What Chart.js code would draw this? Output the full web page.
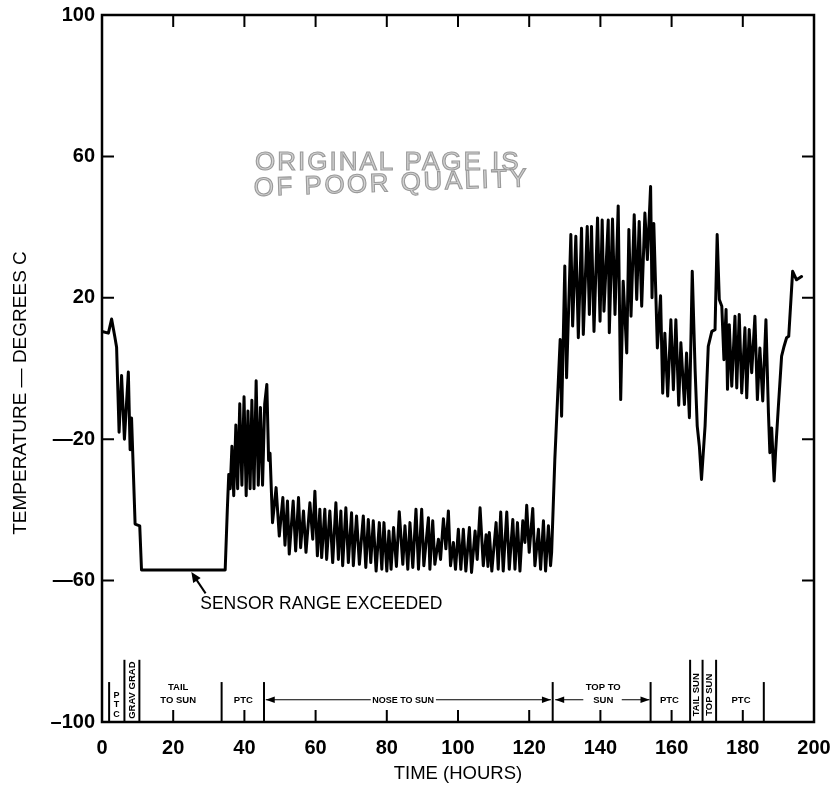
<!DOCTYPE html>
<html><head><meta charset="utf-8">
<script src="https://cdn.jsdelivr.net/npm/chart.js@4.4.0/dist/chart.umd.min.js"></script>
<style>html,body{margin:0;padding:0;background:#fff;}#wrap{width:833px;height:792px;}</style>
</head><body><div id="wrap"><canvas id="c" width="833" height="792"></canvas></div>
<script>
// ---- data ----
const hours = [
 0,1.8,2.7,3.6,4.1,4.8,5.5,6.3,7.4,7.9,8.3,9.3,10.6,11.1,34.6,
 35.2,35.6,36.0,36.5,37.0,37.6,38.1,38.7,39.3,39.9,40.5,41.0,41.6,42.1,42.7,43.3,43.9,44.5,45.1,45.7,46.3,46.8,47.2,
 47.9,48.9,49.8,50.8,51.4,52.1,52.6,53.7,54.4,55.2,55.8,56.6,57.3,58.4,59.2,59.8,60.5,61.2,61.7,62.6,63.1,64.0,64.8,
 65.7,66.4,67.1,67.6,68.5,69.2,70.1,70.6,71.5,72.3,73.4,74.1,74.8,75.5,76.2,77.0,77.9,78.6,79.2,80.0,80.6,81.2,81.9,
 82.7,83.5,84.5,85.1,85.9,86.5,87.3,88.2,88.9,89.8,90.4,91.7,92.1,92.9,93.5,94.5,95.1,95.9,96.6,97.3,97.9,98.7,99.3,
 100.1,100.8,101.5,102.2,103.2,103.8,104.8,105.4,106.2,107.1,107.9,108.4,108.8,109.5,110.7,111.3,112.0,112.7,113.7,
 114.4,115.4,116.0,116.7,117.4,118.2,118.8,119.3,120.0,121.0,121.6,122.6,123.2,124.0,124.6,125.4,126.0,126.3,
 127.2,127.5,128.7,129.1,130.0,130.5,131.7,132.2,133.1,133.8,134.7,135.2,136.3,136.9,137.5,138.2,139.2,139.9,140.5,
 141.0,142.2,142.5,143.4,144.1,145.0,145.7,146.4,147.4,148.0,148.6,149.5,150.2,150.9,151.6,152.5,153.2,154.1,154.5,
 155.0,156.0,156.9,157.5,158.1,158.9,159.8,160.5,161.2,162.0,162.6,163.6,164.2,165.0,165.8,166.6,167.2,167.8,168.4,
 169.4,170.3,171.3,172.2,172.8,173.4,174.1,174.7,175.3,175.7,176.2,176.9,177.8,178.3,179.0,179.7,180.6,181.1,181.8,
 182.5,183.4,184.1,184.8,185.6,186.5,187.2,187.6,188.1,188.8,189.2,190.0,190.9,191.6,192.3,192.9,194.0,195.1,196.5
];
const temps = [
 10.5,10,14,9,6,-18,-2,-20,-1,-23,-14,-44,-44.5,-57,-57,
 -40,-30,-34,-22,-36,-16,-34,-10,-33,-8,-36,-12,-34,-9,-34,-3.5,-33,-11,-33,-10,-4.5,-26,-24,
 -43.6,-33.7,-47.4,-36.5,-50,-37.5,-52.5,-37.5,-51.6,-36.5,-50.7,-40.3,-52,-38,-48.3,-34.7,-53,-39.8,-53.5,-39.8,-54,-40.3,-54.9,
 -38,-54,-40.3,-55.8,-39.4,-54.9,-40.8,-55.8,-41.7,-55.4,-41.7,-56.3,-42.7,-54.9,-43.1,-57.3,-43.6,-56.8,-43.6,-57.3,-46,-56.8,-45,
 -56,-40.5,-55.4,-44.5,-56.8,-43.6,-56.3,-39.8,-56.8,-39.8,-55.8,-42.2,-56.8,-43.1,-55.4,-48.3,-54,-42.5,-51,-40.3,-55.8,-49.2,-56.8,
 -45.5,-56.8,-45.5,-57.3,-45,-57.7,-46,-54,-39.4,-55.8,-47,-56,-46.4,-57.3,-43.6,-56.8,-40.6,-57.3,-40.6,
 -56.8,-42.7,-56.8,-43.6,-57.3,-43.1,-49.2,-38.7,-52,-39.6,-55.8,-45.5,-56.8,-43.1,-57.3,-44.5,-55.8,-52,
 -25.7,-19,8.2,-13.5,29,-2.6,37.9,12,37.4,8.7,39.7,9.6,40.2,15.3,40.2,10.5,42.6,13.4,42,
 16.2,42,10.1,42.3,15.3,46,-8.8,24.7,4.4,39.3,14.8,43.5,19.5,41.6,17.6,44,30.8,51.5,20,
 41,5.8,20.6,-7,10,-7.8,13.8,-6,13.8,-10.4,7.3,-10.2,4.4,-13.9,27.5,-0.3,-16.3,-22,-31.4,
 -16.3,6.3,10.5,11,37.9,19.5,17.6,2.5,16.7,-5.9,12.4,-5,14.8,-5.5,15.3,-6.9,11.5,-8.3,11,
 -1.2,14.8,-8.8,5.8,-9.2,13.8,-12.5,-23.8,-16.8,-31.8,-23.8,-10.6,3.5,6.3,8.7,9.1,27.5,25.1,26
];
const xTickValues = [0,20,40,60,80,100,120,140,160,180,200];
const yTickValues = [-100,-60,-20,20,60,100];
const rightTickValues = [60,20,-20,-60];
const topTickValues = [20,40,60,80,100,120,140,160,180];
// mission phase boundaries (hours) and the temperature reached by each marker line
const phaseHours = [2.0,6.3,10.5,33.6,45.5,126.6,154.1,165.2,168.7,172.5,185.9];
const phaseTops  = [-88.7,-82.4,-82.4,-88.7,-88.7,-88.7,-88.7,-82.4,-82.4,-82.4,-88.7];
const phaseNames = ['PTC','GRAV GRAD','TAIL','TO SUN','PTC','NOSE TO SUN','TOP TO','SUN','PTC','TAIL SUN','TOP SUN','PTC'];

// ---- chart ----
const FONT = "'Liberation Sans', Arial, Helvetica, sans-serif";
Chart.defaults.font.family = FONT;

const mainData = hours.map((h,i)=>({x:h, y:temps[i]}));
const datasets = [{
  data: mainData, showLine:true, borderColor:'#000', borderWidth:3,
  pointRadius:0, tension:0, borderJoinStyle:'round', borderCapStyle:'round'
}];
phaseHours.forEach((h,i)=>{
  datasets.push({data:[{x:h,y:-100},{x:h,y:phaseTops[i]}], showLine:true,
    borderColor:'#000', borderWidth:2, pointRadius:0});
});

function arrowHead(ctx, x, y, ux, uy, len, half){
  ctx.beginPath();
  ctx.moveTo(x,y);
  ctx.lineTo(x-ux*len-uy*half, y-uy*len+ux*half);
  ctx.lineTo(x-ux*len+uy*half, y-uy*len-ux*half);
  ctx.closePath(); ctx.fill();
}

const decor = {
  id:'decor',
  afterDatasetsDraw(chart){
    const {ctx, chartArea:a, scales:{x,y}} = chart;
    const X = v=>x.getPixelForValue(v), Y = v=>y.getPixelForValue(v);
    ctx.save();
    ctx.strokeStyle='#000'; ctx.fillStyle='#000';
    // frame
    ctx.lineWidth=2.5;
    ctx.strokeRect(a.left, a.top, a.right-a.left, a.bottom-a.top);
    // inward ticks
    ctx.lineWidth=2;
    const TL=12;
    ctx.beginPath();
    yTickValues.forEach(v=>{ if(v>-100&&v<100){const p=Y(v); ctx.moveTo(a.left,p); ctx.lineTo(a.left+TL,p);} });
    rightTickValues.forEach(v=>{const p=Y(v); ctx.moveTo(a.right,p); ctx.lineTo(a.right-TL,p);});
    xTickValues.forEach(v=>{ if(v>0&&v<200){const p=X(v); ctx.moveTo(p,a.bottom); ctx.lineTo(p,a.bottom-TL);} });
    topTickValues.forEach(v=>{const p=X(v); ctx.moveTo(p,a.top); ctx.lineTo(p,a.top+TL);});
    ctx.stroke();

    // phase labels
    ctx.textAlign='center'; ctx.textBaseline='middle';
    ctx.font='bold 9px '+FONT;
    ['P','T','C'].forEach((ch,i)=>ctx.fillText(ch, X(4.1), Y([-92.5,-95.1,-97.8][i])));
    const rot = (txt,h,t)=>{ctx.save(); ctx.translate(X(h),Y(t)); ctx.rotate(-Math.PI/2); ctx.fillText(txt,0,0); ctx.restore();};
    ctx.font='bold 9.5px '+FONT;
    rot(phaseNames[1], 8.5, -91);
    rot(phaseNames[9], 166.9, -92.3);
    rot(phaseNames[10], 170.6, -92.3);
    ctx.fillText(phaseNames[2], X(21.4), Y(-90.3));
    ctx.fillText(phaseNames[3], X(21.4), Y(-93.8));
    ctx.fillText(phaseNames[4], X(39.7), Y(-93.8));
    ctx.fillText(phaseNames[6], X(140.8), Y(-90.3));
    ctx.fillText(phaseNames[7], X(140.8), Y(-93.8));
    ctx.fillText(phaseNames[8], X(159.4), Y(-93.8));
    ctx.fillText(phaseNames[11], X(179.5), Y(-93.8));
    ctx.font='bold 9px '+FONT;
    ctx.fillText(phaseNames[5], X(84.6), Y(-93.8));
    // arrows
    ctx.lineWidth=1.2;
    const ay = Y(-93.7);
    ctx.beginPath();
    ctx.moveTo(X(46.0),ay); ctx.lineTo(X(75.5),ay);
    ctx.moveTo(X(93.8),ay); ctx.lineTo(X(126.1),ay);
    ctx.moveTo(X(127.3),ay); ctx.lineTo(X(135.2),ay);
    ctx.moveTo(X(146.0),ay); ctx.lineTo(X(153.8),ay);
    ctx.stroke();
    arrowHead(ctx, X(46.0), ay, -1, 0, 9, 3.2);
    arrowHead(ctx, X(126.1), ay, 1, 0, 9, 3.2);
    arrowHead(ctx, X(127.3), ay, -1, 0, 9, 3.2);
    arrowHead(ctx, X(153.8), ay, 1, 0, 9, 3.2);

    // sensor range annotation
    const hx=X(25.1), hy=Y(-57.6), tx=X(29.1), ty=Y(-63.6);
    let ux=hx-tx, uy=hy-ty; const L=Math.hypot(ux,uy); ux/=L; uy/=L;
    ctx.lineWidth=2;
    ctx.beginPath(); ctx.moveTo(tx,ty); ctx.lineTo(hx-ux*6,hy-uy*6); ctx.stroke();
    arrowHead(ctx, hx, hy, ux, uy, 10, 4.5);
    ctx.font='17.5px '+FONT; ctx.textAlign='left';
    ctx.fillText('SENSOR RANGE EXCEEDED', X(27.6), Y(-66.8));

    // y axis title
    ctx.save();
    ctx.translate(21, 393); ctx.rotate(-Math.PI/2);
    ctx.textAlign='center'; ctx.font='19px '+FONT;
    ctx.fillText('TEMPERATURE — DEGREES C', 0, 0);
    ctx.restore();

    // stamp
    ctx.font='26px '+FONT; ctx.textAlign='left'; ctx.textBaseline='alphabetic';
    try { ctx.letterSpacing='2px'; } catch(e) {}
    ctx.fillStyle='#d2d2d2'; ctx.strokeStyle='#9a9a9a'; ctx.lineWidth=1.1;
    ctx.fillText('ORIGINAL PAGE IS', 255, 170); ctx.strokeText('ORIGINAL PAGE IS', 255, 170);
    ctx.save(); ctx.translate(254,196); ctx.rotate(-0.035);
    try { ctx.letterSpacing='2.5px'; } catch(e) {}
    ctx.fillText('OF POOR QUALITY', 0, 0); ctx.strokeText('OF POOR QUALITY', 0, 0);
    ctx.restore();
    ctx.restore();
  }
};

new Chart(document.getElementById('c'), {
  type:'scatter',
  data:{datasets},
  options:{
    responsive:false, animation:false, devicePixelRatio:1,
    layout:{padding:{top:15,right:19,left:0,bottom:0}},
    plugins:{legend:{display:false}, tooltip:{enabled:false}},
    scales:{
      x:{type:'linear', min:0, max:200, position:'bottom',
        afterBuildTicks:s=>{s.ticks=xTickValues.map(v=>({value:v}));},
        afterFit:s=>{s.height=70; s.paddingLeft=0; s.paddingRight=0;},
        grid:{display:false, drawTicks:false}, border:{display:false},
        ticks:{color:'#000', font:{size:20, weight:'bold'}, padding:14, maxRotation:0, autoSkip:false,
          callback:v=>String(v)},
        title:{display:true, text:'TIME (HOURS)', color:'#000', font:{size:18.5}, padding:{top:0,bottom:7}}
      },
      y:{type:'linear', min:-100, max:100, position:'left',
        afterBuildTicks:s=>{s.ticks=yTickValues.map(v=>({value:v}));},
        afterFit:s=>{s.width=102; s.paddingTop=0; s.paddingBottom=0;},
        grid:{display:false, drawTicks:false}, border:{display:false},
        ticks:{color:'#000', font:{size:20, weight:'bold'}, padding:7, autoSkip:false,
          callback:v=> v===-100 ? '–100' : (v<0 ? '—'+Math.abs(v) : String(v))}
      }
    }
  },
  plugins:[decor]
});
</script>
</body></html>
